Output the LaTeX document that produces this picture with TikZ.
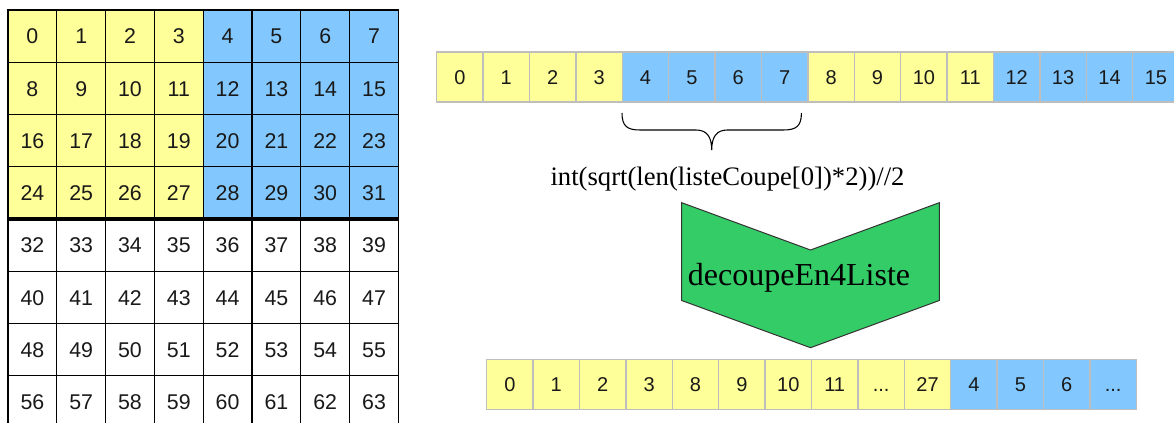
\documentclass[tikz,border=0pt]{standalone}
\usepackage{fontspec}
\setmainfont{Liberation Serif}
\newfontfamily\arialf{Liberation Sans}
\usetikzlibrary{calc}
\definecolor{cy}{RGB}{255,255,153}
\definecolor{cb}{RGB}{130,200,255}
\definecolor{cg}{RGB}{51,204,102}
\definecolor{cgray}{RGB}{190,190,190}
\def\mydots{...}
\begin{document}
\begin{tikzpicture}[x=0.75pt,y=-0.75pt,
  gcell/.style={draw=black, line width=0.9pt, minimum width=36.6pt, minimum height=39.19pt,
    inner sep=0pt, outer sep=0pt, font=\arialf\fontsize{16}{16}\selectfont, text=black!90,
    text height=11.45pt, text depth=0pt},
  lcell/.style={draw=cgray, line width=1pt, minimum width=34.8pt, minimum height=37.5pt,
    inner sep=0pt, outer sep=0pt, font=\arialf\fontsize{15}{15}\selectfont, text=black!90,
    text height=10.74pt, text depth=0pt},
  bracestyle/.style={line width=0.8pt, black},
  chevron/.style={fill=cg, draw=black!80, line width=0.75pt, line join=miter}]
\useasboundingbox (0,0) rectangle (1174,423);
\clip (0,0) rectangle (1174,423);
% big grid
\foreach \i in {0,...,7} {
  \foreach \j in {0,...,7} {
    \pgfmathtruncatemacro\n{8*\i+\j}
    \ifnum\i<4 \ifnum\j<4 \def\fc{cy}\else\def\fc{cb}\fi\else\def\fc{white}\fi
    \node[gcell, fill=\fc] (g\n) at ({8+48.8*(\j+0.5)},{10+52.25*(\i+0.5)}) {\n};
  }
}
\draw[line width=2.4pt] (g24.south west) -- (g31.south east);
% top list
\foreach \k in {0,...,15} {
  \pgfmathtruncatemacro\m{mod(\k,8)}
  \ifnum\m<4 \def\fc{cy}\else\def\fc{cb}\fi
  \node[lcell, fill=\fc] (t\k) at ({436.7+46.4*(\k+0.5)},77) {\k};
}
% brace
\draw[bracestyle] (622,113) .. controls (622,126) and (627,130) .. (640,130) -- (696,130)
  .. controls (707,130) and (711.7,137) .. (711.7,150)
  .. controls (711.7,137) and (716.4,130) .. (727.4,130) -- (783.4,130)
  .. controls (796.4,130) and (801.4,126) .. (801.4,113);
\node[anchor=base, font=\fontsize{20}{20}\selectfont] (formula) at (727.5,186)
  {int(sqrt(len(listeCoupe[0])*2))//2};
% chevron
\draw[chevron] (681.7,202.7) -- (810.5,250) -- (939.3,202.7) -- (939.3,300.5)
  -- (810.5,347.7) -- (681.7,300.5) -- cycle;
\node[anchor=base, font=\fontsize{24}{24}\selectfont] (dec) at (799,286) {decoupeEn4Liste};
% bottom list
\foreach \lab [count=\k from 0] in {0,1,2,3,8,9,10,11,\mydots,27,4,5,6,\mydots} {
  \ifnum\k<10 \def\fc{cy}\else\def\fc{cb}\fi
  \node[lcell, fill=\fc] (b\k) at ({486.7+46.4*(\k+0.5)},384.3) {\lab};
}
\end{tikzpicture}
\end{document}
